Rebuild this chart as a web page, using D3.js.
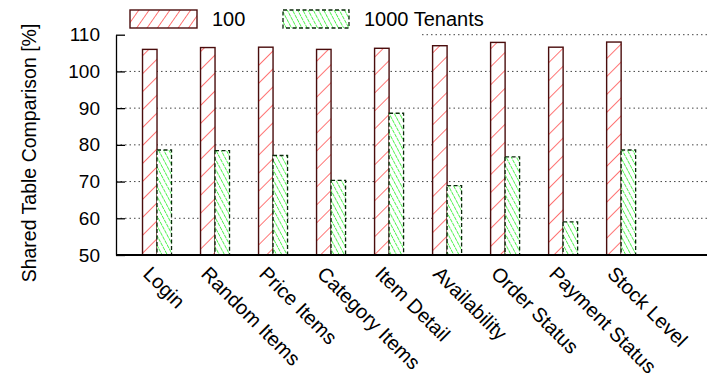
<!DOCTYPE html>
<html>
<head>
<meta charset="utf-8">
<script src="https://cdn.jsdelivr.net/npm/d3@7"></script>
<style>
  html, body { margin: 0; padding: 0; background: #fff; }
  svg { display: block; font-family: "Liberation Sans", Arial, Helvetica, sans-serif; }
</style>
</head>
<body>
<svg id="chart" width="707" height="381"></svg>
<script>
// Transaction types on the x axis
const categories = ["Login", "Random Items", "Price Items", "Category Items", "Item Detail",
                    "Availability", "Order Status", "Payment Status", "Stock Level"];
// Shared-table comparison in percent, per tenant count
const series100 = [106.0, 106.5, 106.6, 106.0, 106.3, 107.0, 107.9, 106.6, 108.0];
const series1000 = [78.6, 78.4, 77.1, 70.3, 88.6, 68.9, 76.7, 59.0, 78.6];
const seriesNames = ["100", "1000 Tenants"];
const yTicks = [50, 60, 70, 80, 90, 100, 110];

const plot = { left: 116, right: 707, top: 34.7, bottom: 255 };
const svg = d3.select("#chart");

const x = d3.scaleLinear().domain([-0.707, 9.48]).range([plot.left, plot.right]);
const y = d3.scaleLinear().domain([50, 110]).range([plot.bottom, plot.top]);
const barW = 14.5;

// Hatch fills
const defs = svg.append("defs");
function hatch(id, period, angle, color, dash, width) {
  const p = defs.append("pattern")
    .attr("id", id).attr("patternUnits", "userSpaceOnUse")
    .attr("width", period).attr("height", period)
    .attr("patternTransform", `rotate(${angle})`);
  p.append("rect").attr("width", period).attr("height", period).attr("fill", "#fff");
  p.append("line").attr("x1", 0).attr("y1", 0).attr("x2", 0).attr("y2", period)
    .attr("stroke", color).attr("stroke-width", width)
    .attr("stroke-dasharray", dash || null);
}
hatch("hatchRed", 12.7, 45, "#ff1a1a", null, 1.2);
hatch("hatchRedKey", 8.5, 35, "#ff1a1a", null, 1.2);
hatch("hatchGreen", 4.6, -28, "#14f014", "4 2.5", 1.4);

// Grid lines (the top one leaves room for the key)
const grid = svg.append("g");
yTicks.filter(t => t > 50).forEach(t => {
  grid.append("line")
    .attr("x1", t === 110 ? 422 : plot.left).attr("x2", plot.right)
    .attr("y1", y(t)).attr("y2", y(t))
    .attr("stroke", "#444").attr("stroke-width", 1)
    .attr("stroke-dasharray", "1.5 3");
});

// Bars
const bars = svg.append("g");
categories.forEach((c, i) => {
  const cx = x(i);
  bars.append("rect")
    .attr("x", cx - barW).attr("y", y(series100[i]))
    .attr("width", barW).attr("height", y(50) - y(series100[i]))
    .attr("fill", "url(#hatchRed)").attr("stroke", "#4a0d0d").attr("stroke-width", 1.4);
  bars.append("rect")
    .attr("x", cx).attr("y", y(series1000[i]))
    .attr("width", barW).attr("height", y(50) - y(series1000[i]))
    .attr("fill", "url(#hatchGreen)").attr("stroke", "#0a2a0a").attr("stroke-width", 1.3)
    .attr("stroke-dasharray", "4 2.5");
});

// Y axis with inward ticks
const yAxis = d3.axisLeft(y).tickValues(yTicks).tickSizeInner(-9).tickSizeOuter(0).tickPadding(16);
const ya = svg.append("g").attr("transform", `translate(${plot.left},0)`).call(yAxis);
ya.select(".domain").attr("stroke", "#000").attr("stroke-width", 1.3);
ya.selectAll(".tick line").attr("stroke", "#000").attr("stroke-width", 1.3);
ya.selectAll(".tick text").attr("font-size", 19).attr("fill", "#000")
  .attr("font-family", "Liberation Sans, Arial, sans-serif");

// X axis baseline
svg.append("line")
  .attr("x1", plot.left).attr("x2", plot.right)
  .attr("y1", y(50)).attr("y2", y(50))
  .attr("stroke", "#000").attr("stroke-width", 2);

// Rotated category labels
svg.append("g").selectAll("text").data(categories).join("text")
  .attr("transform", (d, i) => `translate(${x(i) - 15},${275}) rotate(45)`)
  .attr("font-size", 20).attr("fill", "#000")
  .text(d => d);

// Y axis title
svg.append("text")
  .attr("transform", `translate(36,${153}) rotate(-90)`)
  .attr("text-anchor", "middle").attr("font-size", 19.5).attr("fill", "#000")
  .text("Shared Table Comparison [%]");

// Key
const key = svg.append("g");
key.append("rect").attr("x", 130).attr("y", 10).attr("width", 67).attr("height", 18)
  .attr("fill", "url(#hatchRedKey)").attr("stroke", "#4a0d0d").attr("stroke-width", 1.4);
key.append("text").attr("x", 212).attr("y", 26).attr("font-size", 20).text(seriesNames[0]);
key.append("rect").attr("x", 283).attr("y", 10).attr("width", 66).attr("height", 18)
  .attr("fill", "url(#hatchGreen)").attr("stroke", "#0a2a0a").attr("stroke-width", 1.3)
  .attr("stroke-dasharray", "4 2.5");
key.append("text").attr("x", 364).attr("y", 26).attr("font-size", 20).text(seriesNames[1]);
</script>
</body>
</html>
